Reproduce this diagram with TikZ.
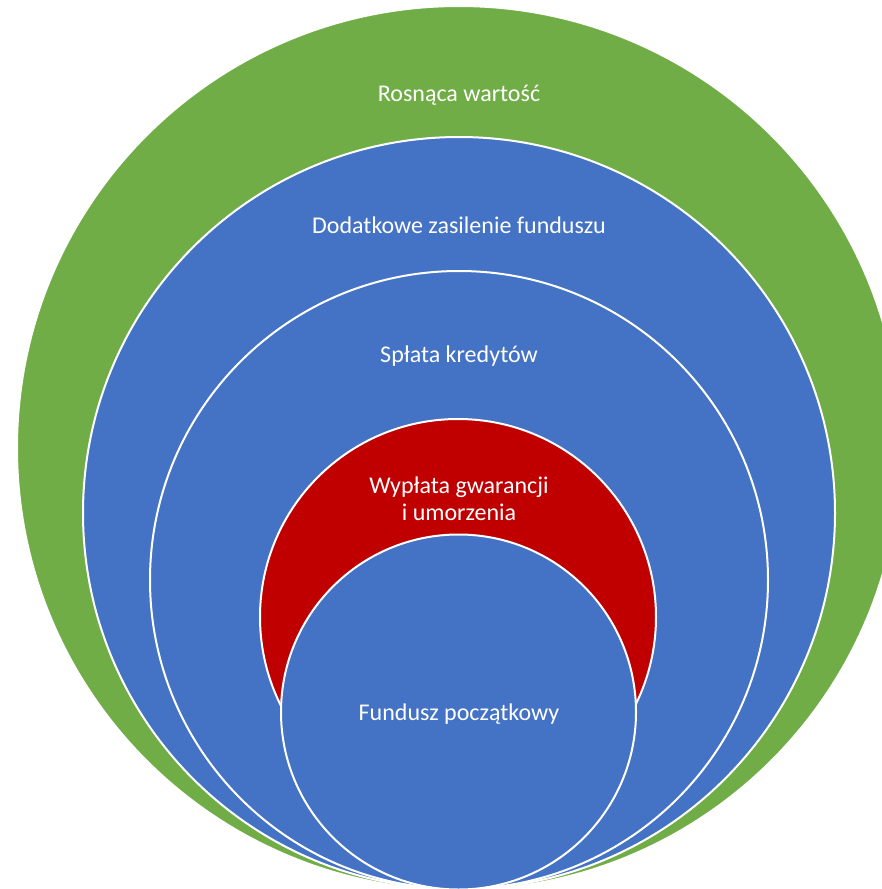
\documentclass[tikz,border=0pt]{standalone}
\usepackage{fontspec}
\setmainfont{Carlito}
\definecolor{vgreen}{HTML}{70AD47}
\definecolor{vblue}{HTML}{4472C4}
\definecolor{vred}{HTML}{C00000}
\begin{document}
\begin{tikzpicture}[x=1pt,y=-1pt,
  ring/.style={draw=white,line width=2pt},
  lbl/.style={text=white,font=\fontsize{24}{27}\selectfont,align=center,inner sep=0pt}]
\useasboundingbox (0,0) rectangle (882,889);
\clip (0,0) rectangle (882,889);
\fill[white] (0,0) rectangle (882,889);
\node[ring,fill=vgreen,circle,minimum size=884pt,inner sep=0pt] (c1) at (459,448) {};
\node[ring,fill=vblue,circle,minimum size=752pt,inner sep=0pt] (c2) at (459,513) {};
\node[ring,fill=vblue,circle,minimum size=618pt,inner sep=0pt] (c3) at (459,580) {};
\node[ring,fill=vred,circle,minimum size=396pt,inner sep=0pt] (c4) at (458,617) {};
\node[ring,fill=vblue,circle,minimum size=355pt,inner sep=0pt] (c5) at (458.5,712) {};
\node[lbl] (t1) at (459,95) {Rosnąca wartość};
\node[lbl] (t2) at (459,225) {Dodatkowe zasilenie funduszu};
\node[lbl] (t3) at (459,356) {Spłata kredytów};
\node[lbl] (t4) at (459,499) {Wypłata gwarancji\\i umorzenia};
\node[lbl] (t5) at (459,714) {Fundusz początkowy};
\end{tikzpicture}
\end{document}
